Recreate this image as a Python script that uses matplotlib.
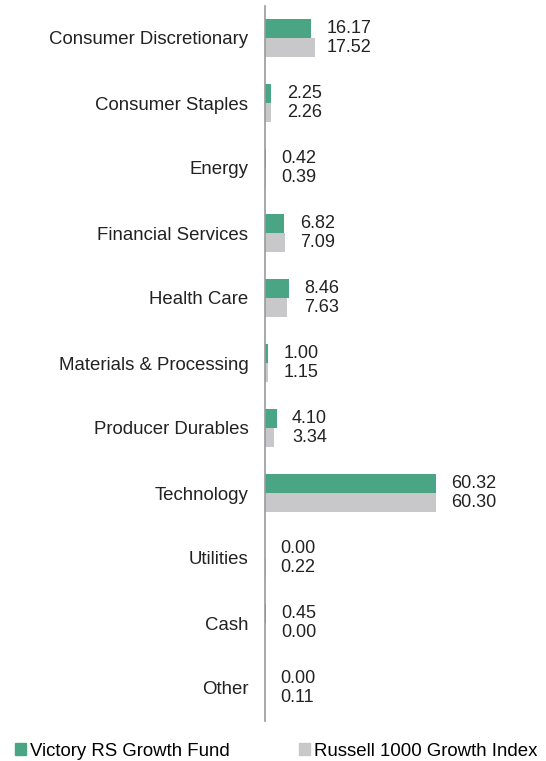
import matplotlib.pyplot as plt
import numpy as np
from matplotlib.patches import Patch

plt.rcParams['font.family'] = ['Liberation Sans', 'DejaVu Sans']

# data
sectors = ['Consumer Discretionary', 'Consumer Staples', 'Energy', 'Financial Services',
           'Health Care', 'Materials & Processing', 'Producer Durables', 'Technology',
           'Utilities', 'Cash', 'Other']
fund = [16.17, 2.25, 0.42, 6.82, 8.46, 1.00, 4.10, 60.32, 0.00, 0.45, 0.00]
index = [17.52, 2.26, 0.39, 7.09, 7.63, 1.15, 3.34, 60.30, 0.22, 0.00, 0.11]

green = '#4AA584'
grey = '#C8C8CA'

fig = plt.figure(figsize=(5.46, 7.61), dpi=100)
ax = fig.add_axes([265 / 546, 40.5 / 761, 275 / 546, 715 / 761])

y = np.arange(len(sectors))
h = 0.29
ax.barh(y - h / 2, fund, height=h, color=green)
ax.barh(y + h / 2, index, height=h, color=grey)

# value labels, both placed after the fund bar
for i in range(len(sectors)):
    x = fund[i] + 5.4
    ax.text(x, y[i] - h / 2, f'{fund[i]:.2f}', va='center', ha='left', fontsize=13, color='#222222')
    ax.text(x, y[i] + h / 2, f'{index[i]:.2f}', va='center', ha='left', fontsize=13, color='#222222')

ax.set_ylim(len(sectors) - 0.5, -0.5)
ax.set_xlim(0, 97)
ax.set_yticks(y)
ax.set_yticklabels(sectors, fontsize=13.4, color='#222222')
ax.tick_params(axis='y', length=0, pad=12)
ax.set_xticks([])
for s in ['top', 'right', 'bottom']:
    ax.spines[s].set_visible(False)
ax.spines['left'].set_color('#999999')
ax.spines['left'].set_linewidth(1.2)

handles = [Patch(color=green, label='Victory RS Growth Fund'),
           Patch(color=grey, label='Russell 1000 Growth Index')]
fig.legend(handles=handles, loc='center left', bbox_to_anchor=(15 / 546, 10 / 761), ncol=2,
           frameon=False, fontsize=13.4, handlelength=0.6, handleheight=0.6,
           handletextpad=0.2, columnspacing=3.73, borderaxespad=0, borderpad=0.0)

fig.savefig('out.png', dpi=100)
